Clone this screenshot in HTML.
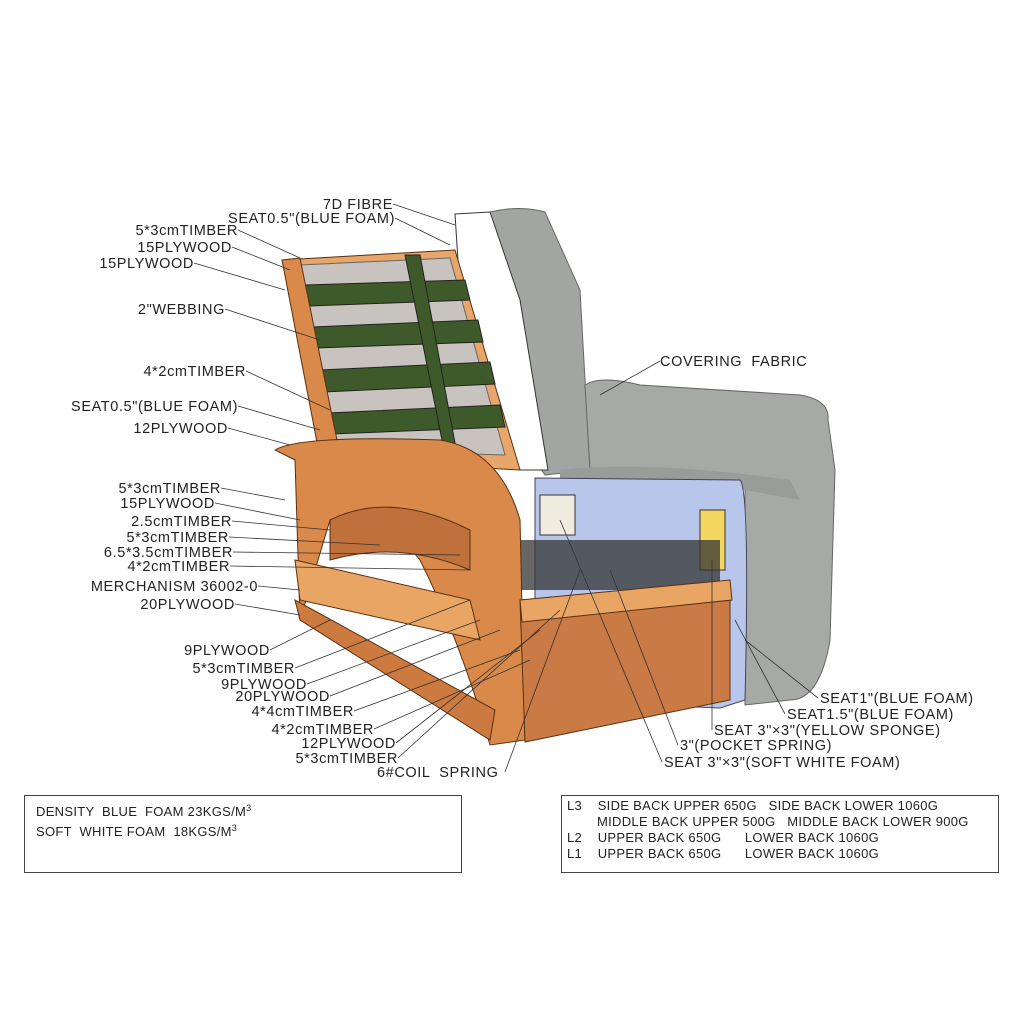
<!DOCTYPE html>
<html><head><meta charset="utf-8"><style>
html,body{margin:0;padding:0;background:#fff;}
svg{display:block}
text{font-family:"Liberation Sans",sans-serif;font-size:14.5px;letter-spacing:0.6px;fill:#222;white-space:pre;}
.s{font-size:13px;letter-spacing:0.3px}
</style></head><body>
<svg width="1024" height="1024" viewBox="0 0 1024 1024" xmlns="http://www.w3.org/2000/svg" xml:space="preserve">
<rect width="1024" height="1024" fill="#fff"/>
<path d="M490 212 Q520 205 545 212 L580 290 L590 470 L545 475 L520 440 Z" fill="#a3a5a3" stroke="#666"/>
<path d="M455 214 L490 212 L520 300 L548 470 L520 470 L470 450 Z" fill="#fff" stroke="#333"/>
<path d="M585 385 Q600 375 640 385 L800 395 Q830 400 828 420 L835 470 L830 640 Q820 700 790 700 L745 705 L745 480 Q700 465 590 470 Z" fill="#a7a9a7" stroke="#666"/>
<path d="M560 470 Q650 460 790 480 L800 500 L745 490 L560 480 Z" fill="#9a9c9a"/>
<path d="M282 260 L455 250 L520 470 L330 460 Z" fill="#e8a66a" stroke="#5a3010"/>
<path d="M300 265 L450 258 L505 455 L335 450 Z" fill="#c8c3bf" stroke="#666"/>
<g fill="#3f5a2a" stroke="#222">
<polygon points="305,285 465,280 470,300 310,306"/>
<polygon points="312,327 478,320 483,342 316,348"/>
<polygon points="320,370 490,362 495,384 324,392"/>
<polygon points="328,413 500,405 505,427 332,434"/>
<polygon points="405,255 420,255 460,470 448,470"/>
</g>
<path d="M282 260 L300 258 L340 455 L320 458 Z" fill="#d98a4a" stroke="#5a3010"/>
<path d="M535 478 L740 480 Q750 490 745 700 L720 708 L535 700 Z" fill="#b8c6ec" stroke="#445"/>
<rect x="700" y="510" width="25" height="60" fill="#f3d760" stroke="#333"/>
<rect x="540" y="495" width="35" height="40" fill="#f0ece0" stroke="#333"/>
<path d="M520 540 L720 540 L720 590 L520 590 Z" fill="#333" opacity="0.75"/>
<path d="M275 450 Q300 435 440 440 Q500 450 520 520 L525 740 L490 745 Q460 640 420 560 Q380 510 330 520 L300 620 L295 460 Z" fill="#d98a4a" stroke="#5a3010"/>
<path d="M330 520 Q390 490 470 530 L470 570 Q400 540 330 560 Z" fill="#c0703a" stroke="#5a3010"/>
<path d="M295 560 L470 600 L480 640 L300 600 Z" fill="#e9a564" stroke="#5a3010"/>
<path d="M295 600 L300 620 L490 740 L495 710 Z" fill="#cc7a40" stroke="#5a3010"/>
<path d="M520 600 L730 590 L730 700 L525 742 Z" fill="#c97a45" stroke="#5a3010"/>
<path d="M520 600 L730 580 L732 600 L522 622 Z" fill="#e9a564" stroke="#5a3010"/>
<g stroke="#333" stroke-width="0.8" fill="none">
<line x1="393" y1="204" x2="455" y2="225"/><line x1="395" y1="218" x2="450" y2="245"/>
<line x1="238" y1="230" x2="300" y2="258"/><line x1="232" y1="247" x2="290" y2="270"/>
<line x1="194" y1="263" x2="285" y2="290"/><line x1="225" y1="309" x2="320" y2="340"/>
<line x1="246" y1="371" x2="330" y2="410"/><line x1="238" y1="406" x2="320" y2="430"/>
<line x1="228" y1="428" x2="290" y2="445"/><line x1="221" y1="488" x2="285" y2="500"/>
<line x1="215" y1="503" x2="300" y2="520"/><line x1="232" y1="521" x2="330" y2="530"/>
<line x1="229" y1="537" x2="380" y2="545"/><line x1="233" y1="552" x2="460" y2="555"/>
<line x1="230" y1="566" x2="470" y2="570"/><line x1="258" y1="586" x2="300" y2="590"/>
<line x1="235" y1="604" x2="300" y2="615"/><line x1="270" y1="650" x2="330" y2="620"/>
<line x1="295" y1="668" x2="470" y2="600"/><line x1="307" y1="684" x2="480" y2="620"/>
<line x1="330" y1="696" x2="500" y2="630"/><line x1="354" y1="711" x2="520" y2="650"/>
<line x1="374" y1="729" x2="530" y2="660"/><line x1="396" y1="743" x2="540" y2="630"/>
<line x1="398" y1="758" x2="560" y2="610"/><line x1="505" y1="772" x2="580" y2="570"/>
<line x1="660" y1="361" x2="600" y2="395"/>
<line x1="818" y1="698" x2="745" y2="640"/><line x1="785" y1="714" x2="735" y2="620"/>
<line x1="712" y1="730" x2="712" y2="560"/><line x1="678" y1="745" x2="610" y2="570"/>
<line x1="662" y1="762" x2="560" y2="520"/>
</g>
<g text-anchor="end">
<text x="393" y="209">7D FIBRE</text><text x="395" y="223">SEAT0.5"(BLUE FOAM)</text>
<text x="238" y="235">5*3cmTIMBER</text><text x="232" y="252">15PLYWOOD</text>
<text x="194" y="268">15PLYWOOD</text><text x="225" y="314">2"WEBBING</text>
<text x="246" y="376">4*2cmTIMBER</text><text x="238" y="411">SEAT0.5"(BLUE FOAM)</text>
<text x="228" y="433">12PLYWOOD</text><text x="221" y="493">5*3cmTIMBER</text>
<text x="215" y="508">15PLYWOOD</text><text x="232" y="526">2.5cmTIMBER</text>
<text x="229" y="542">5*3cmTIMBER</text><text x="233" y="557">6.5*3.5cmTIMBER</text>
<text x="230" y="571">4*2cmTIMBER</text><text x="258" y="591">MERCHANISM 36002-0</text>
<text x="235" y="609">20PLYWOOD</text><text x="270" y="655">9PLYWOOD</text>
<text x="295" y="673">5*3cmTIMBER</text><text x="307" y="689">9PLYWOOD</text>
<text x="330" y="701">20PLYWOOD</text><text x="354" y="716">4*4cmTIMBER</text>
<text x="374" y="734">4*2cmTIMBER</text><text x="396" y="748">12PLYWOOD</text>
<text x="398" y="763">5*3cmTIMBER</text>
</g>
<text x="377" y="777">6#COIL  SPRING</text>
<text x="660" y="366">COVERING  FABRIC</text>
<text x="820" y="703">SEAT1"(BLUE FOAM)</text>
<text x="787" y="719">SEAT1.5"(BLUE FOAM)</text>
<text x="714" y="735">SEAT 3"×3"(YELLOW SPONGE)</text>
<text x="680" y="750">3"(POCKET SPRING)</text>
<text x="664" y="767">SEAT 3"×3"(SOFT WHITE FOAM)</text>
<rect x="24.5" y="795.5" width="437" height="77" fill="none" stroke="#444"/>
<rect x="561.5" y="795.5" width="437" height="77" fill="none" stroke="#444"/>
<text class="s" x="36" y="816">DENSITY  BLUE  FOAM 23KGS/M<tspan font-size="9" dy="-5">3</tspan></text>
<text class="s" x="36" y="836">SOFT  WHITE FOAM  18KGS/M<tspan font-size="9" dy="-5">3</tspan></text>
<text class="s" x="567" y="810">L3    SIDE BACK UPPER 650G   SIDE BACK LOWER 1060G</text>
<text class="s" x="597" y="826">MIDDLE BACK UPPER 500G   MIDDLE BACK LOWER 900G</text>
<text class="s" x="567" y="842">L2    UPPER BACK 650G      LOWER BACK 1060G</text>
<text class="s" x="567" y="858">L1    UPPER BACK 650G      LOWER BACK 1060G</text>
</svg>
</body></html>
